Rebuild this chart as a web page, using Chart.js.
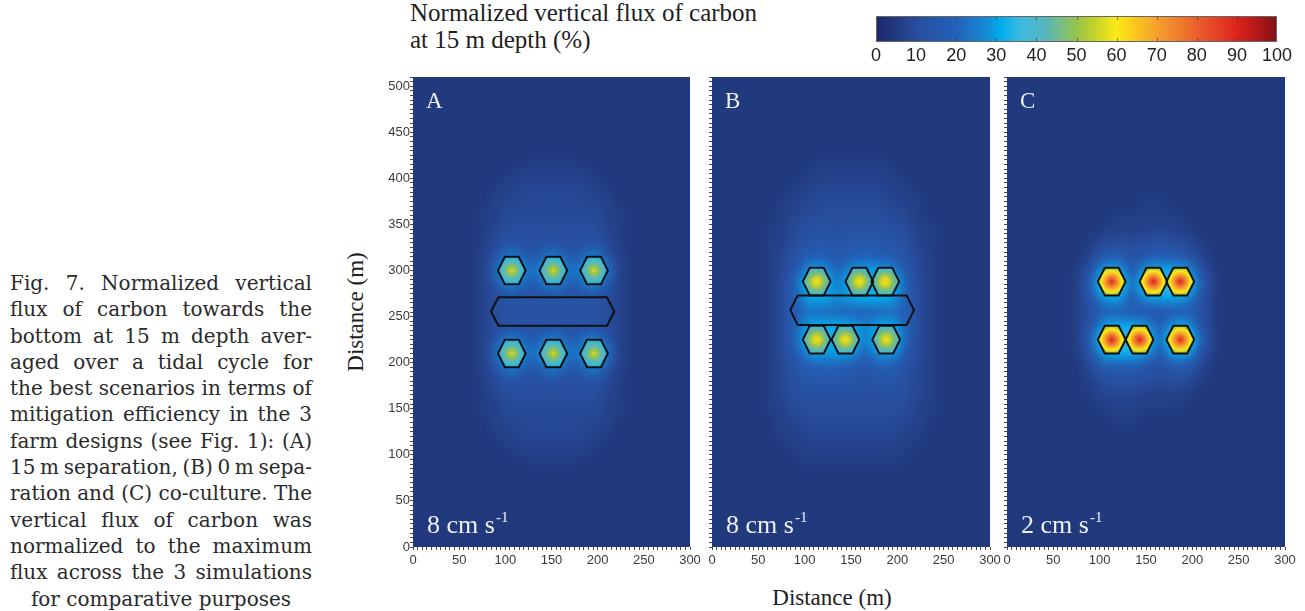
<!DOCTYPE html>
<html>
<head>
<meta charset="utf-8">
<script src="https://cdn.jsdelivr.net/npm/chart.js@4.4.1/dist/chart.umd.min.js"></script>
<style>
  html, body { margin: 0; padding: 0; background: #fff; }
  body { width: 1305px; height: 611px; position: relative; overflow: hidden; }
  canvas { position: absolute; }
  .serif { position: absolute; white-space: nowrap; font-family: "Liberation Serif", "Times New Roman", serif; color: #1e1e1e; }
  #caption { position: absolute; left: 10px; top: 270px; width: 302px; font-family: "DejaVu Serif", serif; font-size: 20px; line-height: 26.3px; color: #2a2a2a; }
  #caption div { white-space: nowrap; }
  #caption .c { text-align: center; }
</style>
</head>
<body>

<div class="serif" style="left:410px; top:-1px; font-size:25px; line-height:27px;">Normalized vertical flux of carbon<br>at 15 m depth (%)</div>

<div id="caption">
  <div class="j"><span>Fig. 7. Normalized vertical</span></div>
  <div class="j"><span>flux of carbon towards the</span></div>
  <div class="j"><span>bottom at 15 m depth aver-</span></div>
  <div class="j"><span>aged over a tidal cycle for</span></div>
  <div class="j"><span>the best scenarios in terms of</span></div>
  <div class="j"><span>mitigation efficiency in the 3</span></div>
  <div class="j"><span>farm designs (see Fig. 1): (A)</span></div>
  <div class="j"><span>15 m separation, (B) 0 m sepa-</span></div>
  <div class="j"><span>ration and (C) co-culture. The</span></div>
  <div class="j"><span>vertical flux of carbon was</span></div>
  <div class="j"><span>normalized to the maximum</span></div>
  <div class="j"><span>flux across the 3 simulations</span></div>
  <div class="c"><span>for comparative purposes</span></div>
</div>

<div class="serif" style="left:732px; top:586px; width:200px; text-align:center; font-size:23px; line-height:23px;">Distance (m)</div>
<div class="serif" style="left:276px; top:299px; width:160px; height:26px; text-align:center; font-size:23px; line-height:26px; transform:rotate(-90deg);">Distance (m)</div>

<canvas id="cbar" width="440" height="60" style="left:860px; top:8px;"></canvas>
<canvas id="panelA" width="325" height="551" style="left:380px; top:60px;"></canvas>
<canvas id="panelB" width="305" height="551" style="left:700px; top:60px;"></canvas>
<canvas id="panelC" width="305" height="551" style="left:995px; top:60px;"></canvas>

<script>
// ---- data (metres / percent) ----
const panelNames = ['A', 'B', 'C'];
const currentSpeed = ['8', '8', '2'];          // cm s-1
const xMax = 300, yMax = 510;

// farm (hexagon) centres
const hexX = [
  [107, 152, 196, 107, 152, 196],
  [113, 159, 187, 113, 144, 188],
  [113, 158, 187, 113, 143, 187]
];
const hexY = [
  [300, 300, 300, 210, 210, 210],
  [288, 288, 288, 225, 225, 225],
  [288, 288, 288, 225, 225, 225]
];
// normalized flux at the farm centre and at its rim (%)
const hexPeak = [
  [56, 56, 56, 56, 56, 56],
  [62, 62, 63, 62, 62, 61],
  [88, 90, 90, 90, 90, 88]
];
const hexRim = [33, 37, 50];
const hexHalo = [29, 31, 32];

// long farm between the two rows (null = none)
const barX = [[84.5, 218], [84.5, 218], null];
const barY = [[240, 271], [241, 273], null];

// flux read on a 15 m grid, rows from y=435 down to y=90, columns x=45..255
const fieldX0 = 45, fieldYTop = 435, fieldStep = 15, bgFlux = 5;

const fluxA = [
  [5,5,5,5,5,5,5,5,5,5,5,5,5,5,5],
  [5,5,5,5,5,5,6,6,6,5,5,5,5,5,5],
  [5,5,5,5,6,7,7,7,7,7,6,5,5,5,5],
  [5,5,5,6,7,8,8,8,8,8,7,6,5,5,5],
  [5,5,5,7,8,8,9,9,9,8,8,7,5,5,5],
  [5,5,6,7,9,9,9,9,9,9,9,7,6,5,5],
  [5,5,6,8,10,10,10,10,10,10,10,8,6,5,5],
  [5,5,6,9,13,11,11,13,11,11,13,9,6,5,5],
  [5,5,7,11,20,15,15,20,15,15,20,11,7,5,5],
  [5,5,7,14,34,22,22,34,22,22,34,14,7,5,5],
  [5,5,7,12,22,17,17,22,17,17,22,12,7,5,5],
  [5,5,7,10,13,12,12,13,12,12,13,10,7,5,5],
  [5,5,7,10,12,12,12,12,12,12,12,10,7,5,5],
  [5,5,7,10,13,12,12,13,12,12,13,10,7,5,5],
  [5,5,7,12,22,17,17,22,17,17,22,12,7,5,5],
  [5,5,7,14,34,22,22,34,22,22,34,14,7,5,5],
  [5,5,7,11,20,15,15,20,15,15,20,11,7,5,5],
  [5,5,6,9,13,11,11,13,11,11,13,9,6,5,5],
  [5,5,6,8,10,10,10,10,10,10,10,8,6,5,5],
  [5,5,6,7,9,9,9,9,9,9,9,7,6,5,5],
  [5,5,5,7,8,8,9,9,9,8,8,7,5,5,5],
  [5,5,5,6,7,8,8,8,8,8,7,6,5,5,5],
  [5,5,5,5,6,7,7,7,7,7,6,5,5,5,5],
  [5,5,5,5,5,5,6,6,6,5,5,5,5,5,5]
];

const fluxB = [
  [5,5,5,5,5,5,5,5,5,5,5,5,5,5,5],
  [5,5,5,5,5,6,6,6,6,6,5,5,5,5,5],
  [5,5,5,5,6,7,7,7,7,7,6,5,5,5,5],
  [5,5,5,6,7,8,8,8,8,8,7,6,5,5,5],
  [5,5,6,7,8,9,9,9,9,9,8,7,6,5,5],
  [5,5,6,8,9,10,10,10,10,10,9,8,6,5,5],
  [5,6,7,9,11,12,11,12,12,12,11,9,7,6,5],
  [5,6,7,10,13,14,13,14,15,14,13,10,7,6,5],
  [5,6,8,12,18,19,15,18,20,19,16,12,8,6,5],
  [5,6,8,15,26,27,20,26,28,27,22,14,8,6,5],
  [5,6,9,18,34,34,24,32,35,35,32,17,9,6,5],
  [5,6,9,19,30,30,27,29,31,31,29,18,9,6,5],
  [5,6,9,18,23,22,21,20,20,21,22,18,9,6,5],
  [5,6,9,19,30,31,31,29,25,29,30,18,9,6,5],
  [5,6,9,18,34,34,34,34,24,34,34,17,9,6,5],
  [5,6,9,16,26,28,28,25,19,26,26,14,9,6,5],
  [5,6,8,13,18,19,19,17,14,18,18,12,8,6,5],
  [5,6,8,11,14,14,14,13,12,13,13,10,8,6,5],
  [5,6,8,10,11,11,11,11,11,11,11,10,8,6,5],
  [5,6,7,9,10,10,10,10,10,10,10,9,7,6,5],
  [5,5,7,8,9,9,9,9,9,9,9,8,7,5,5],
  [5,5,6,7,8,8,8,8,8,8,8,7,6,5,5],
  [5,5,5,6,7,7,7,7,7,7,7,6,5,5,5],
  [5,5,5,5,6,6,6,6,6,6,6,5,5,5,5]
];

const fluxC = [
  [5,5,5,5,5,5,5,5,5,5,5,5,5,5,5],
  [5,5,5,5,5,5,5,5,5,5,5,5,5,5,5],
  [5,5,5,5,5,5,5,5,5,5,5,5,5,5,5],
  [5,5,5,5,5,5,5,5,5,5,5,5,5,5,5],
  [5,5,5,5,5,5,5,6,6,5,5,5,5,5,5],
  [5,5,5,5,5,6,6,6,6,6,5,5,5,5,5],
  [5,5,5,5,6,7,7,7,8,7,6,5,5,5,5],
  [5,5,5,6,9,10,9,10,11,10,9,6,5,5,5],
  [5,5,5,8,16,17,12,16,18,17,13,8,5,5,5],
  [5,5,6,11,29,29,16,27,31,30,25,11,6,5,5],
  [5,5,6,16,40,40,20,38,42,42,36,15,6,5,5],
  [5,5,6,13,28,28,18,26,29,29,25,12,6,5,5],
  [5,5,6,11,19,20,17,16,15,18,18,11,6,5,5],
  [5,5,6,13,28,30,30,26,17,28,28,12,6,5,5],
  [5,5,6,16,40,42,42,36,20,40,40,15,6,5,5],
  [5,5,6,12,29,31,31,25,16,29,27,11,6,5,5],
  [5,5,5,9,16,17,17,14,11,15,14,8,5,5,5],
  [5,5,5,7,10,11,11,10,9,10,9,6,5,5,5],
  [5,5,5,6,8,8,8,7,7,7,6,5,5,5,5],
  [5,5,5,5,6,7,7,6,6,6,5,5,5,5,5],
  [5,5,5,5,5,6,6,5,5,5,5,5,5,5,5],
  [5,5,5,5,5,5,5,5,5,5,5,5,5,5,5],
  [5,5,5,5,5,5,5,5,5,5,5,5,5,5,5],
  [5,5,5,5,5,5,5,5,5,5,5,5,5,5,5]
];
const fluxFields = [fluxA, fluxB, fluxC];

const colorbarTicks = [0, 10, 20, 30, 40, 50, 60, 70, 80, 90, 100];

// ---- colour map ----
const cmapValues = [0, 5, 10, 20, 28, 31, 36, 42, 50, 55, 60, 65, 70, 80, 90, 95, 100];
const cmapColors = [
  [30, 40, 110], [33, 57, 125], [40, 78, 158], [35, 98, 185], [18, 142, 215],
  [0, 172, 236], [60, 186, 224], [85, 181, 190], [150, 196, 78], [202, 212, 40],
  [251, 234, 22], [249, 196, 32], [245, 160, 45], [235, 96, 44], [220, 36, 30],
  [180, 24, 24], [125, 18, 22]
];

const hexHalfW = 15, hexHalfH = 15, barInset = 8;

function colorAt(v) {
  v = Math.max(0, Math.min(100, v));
  for (let i = 1; i < cmapValues.length; i++) {
    if (v <= cmapValues[i]) {
      const t = (v - cmapValues[i - 1]) / (cmapValues[i] - cmapValues[i - 1]);
      const a = cmapColors[i - 1], b = cmapColors[i];
      return [0, 1, 2].map(k => Math.round(a[k] + (b[k] - a[k]) * t));
    }
  }
  return cmapColors[cmapColors.length - 1];
}
const rgb = c => 'rgb(' + c[0] + ',' + c[1] + ',' + c[2] + ')';

function sampleField(rows, vx, vy) {
  const nx = rows[0].length, ny = rows.length;
  let fi = (vx - fieldX0) / fieldStep, fj = (fieldYTop - vy) / fieldStep;
  if (fi < -0.5 || fi > nx - 0.5 || fj < -0.5 || fj > ny - 0.5) return bgFlux;
  fi = Math.max(0, Math.min(nx - 1, fi));
  fj = Math.max(0, Math.min(ny - 1, fj));
  const i0 = Math.min(Math.floor(fi), nx - 2), j0 = Math.min(Math.floor(fj), ny - 2);
  const tx = fi - i0, ty = fj - j0;
  const top = rows[j0][i0] * (1 - tx) + rows[j0][i0 + 1] * tx;
  const bot = rows[j0 + 1][i0] * (1 - tx) + rows[j0 + 1][i0 + 1] * tx;
  return top * (1 - ty) + bot * ty;
}

function fieldPlugin(p) {
  return {
    id: 'field' + p,
    beforeDatasetsDraw(chart) {
      const { ctx, chartArea: a, scales: { x, y } } = chart;
      const w = Math.round(a.right - a.left), h = Math.round(a.bottom - a.top);
      const off = document.createElement('canvas');
      off.width = w; off.height = h;
      const g = off.getContext('2d');
      const img = g.createImageData(w, h);
      const rows = fluxFields[p];
      for (let py = 0; py < h; py++) {
        const vy = y.getValueForPixel(a.top + py + 0.5);
        for (let px = 0; px < w; px++) {
          const vx = x.getValueForPixel(a.left + px + 0.5);
          const c = colorAt(sampleField(rows, vx, vy));
          const k = (py * w + px) * 4;
          img.data[k] = c[0]; img.data[k + 1] = c[1]; img.data[k + 2] = c[2]; img.data[k + 3] = 255;
        }
      }
      g.putImageData(img, 0, 0);
      ctx.save();
      ctx.fillStyle = rgb(colorAt(bgFlux));
      ctx.fillRect(a.left, a.top, w, h);
      ctx.beginPath(); ctx.rect(a.left, a.top, w, h); ctx.clip();
      ctx.filter = 'blur(3px)';
      ctx.drawImage(off, a.left, a.top);
      ctx.restore();
    },
    afterDatasetsDraw(chart) {
      const { ctx, chartArea: a, scales: { x, y } } = chart;
      const P = (vx, vy) => [x.getPixelForValue(vx), y.getPixelForValue(vy)];
      function hexPath(cx, cy) {
        const pts = [P(cx - hexHalfW, cy), P(cx - hexHalfW / 2, cy + hexHalfH), P(cx + hexHalfW / 2, cy + hexHalfH),
                     P(cx + hexHalfW, cy), P(cx + hexHalfW / 2, cy - hexHalfH), P(cx - hexHalfW / 2, cy - hexHalfH)];
        ctx.beginPath();
        pts.forEach((q, i) => i ? ctx.lineTo(q[0], q[1]) : ctx.moveTo(q[0], q[1]));
        ctx.closePath();
      }
      ctx.save();
      ctx.beginPath(); ctx.rect(a.left, a.top, a.right - a.left, a.bottom - a.top); ctx.clip();
      // glow
      const halo = rgb(colorAt(hexHalo[p]));
      hexX[p].forEach((cx, i) => {
        hexPath(cx, hexY[p][i]);
        ctx.shadowColor = halo; ctx.shadowBlur = 14;
        ctx.fillStyle = halo; ctx.fill();
      });
      ctx.shadowBlur = 0; ctx.shadowColor = 'transparent';
      // farm fill
      hexX[p].forEach((cx, i) => {
        const cy = hexY[p][i];
        const c = P(cx, cy);
        const r = x.getPixelForValue(cx + hexHalfW) - c[0];
        const grad = ctx.createRadialGradient(c[0], c[1], 0, c[0], c[1], r);
        for (let s = 0; s <= 4; s++) {
          const t = s / 4;
          grad.addColorStop(t, rgb(colorAt(hexPeak[p][i] + (hexRim[p] - hexPeak[p][i]) * t)));
        }
        hexPath(cx, cy);
        ctx.fillStyle = grad; ctx.fill();
      });
      // outlines
      ctx.strokeStyle = '#101010'; ctx.lineWidth = 2; ctx.lineJoin = 'round';
      hexX[p].forEach((cx, i) => { hexPath(cx, hexY[p][i]); ctx.stroke(); });
      if (barX[p]) {
        const [x0, x1] = barX[p], [y0, y1] = barY[p], ym = (y0 + y1) / 2;
        const pts = [P(x0, ym), P(x0 + barInset, y1), P(x1 - barInset, y1), P(x1, ym), P(x1 - barInset, y0), P(x0 + barInset, y0)];
        ctx.beginPath();
        pts.forEach((q, i) => i ? ctx.lineTo(q[0], q[1]) : ctx.moveTo(q[0], q[1]));
        ctx.closePath(); ctx.stroke();
      }
      // panel texts
      ctx.fillStyle = '#eef1f7';
      ctx.textBaseline = 'alphabetic';
      ctx.font = '23px "Liberation Serif"';
      ctx.fillText(panelNames[p], a.left + 13, a.top + 31);
      ctx.font = '26px "Liberation Serif"';
      const txt = currentSpeed[p] + ' cm s';
      ctx.fillText(txt, a.left + 14, a.bottom - 14);
      const tw = ctx.measureText(txt).width;
      ctx.font = '15px "Liberation Serif"';
      ctx.fillText('-1', a.left + 14 + tw + 1, a.bottom - 25);
      ctx.restore();
    }
  };
}

Chart.defaults.font.family = 'Liberation Sans';

function makePanel(canvasId, p, yLabels, rightPad) {
  const pts = hexX[p].map((vx, i) => ({ x: vx, y: hexY[p][i] }));
  return new Chart(document.getElementById(canvasId), {
    type: 'scatter',
    data: { datasets: [{ data: pts, pointRadius: 0 }] },
    options: {
      responsive: false, animation: false, devicePixelRatio: 1,
      layout: { padding: { left: 0, right: rightPad, top: 17, bottom: 0 } },
      plugins: { legend: { display: false }, tooltip: { enabled: false } },
      scales: {
        x: {
          type: 'linear', min: 0, max: xMax,
          ticks: { stepSize: 5, maxTicksLimit: 500, autoSkip: false, maxRotation: 0, padding: 3, color: '#3a3a3a',
                   font: { size: 13 }, callback: v => (v % 50 === 0 ? v : '') },
          grid: { drawOnChartArea: false, tickLength: 3, color: '#4a4a4a' },
          border: { display: false },
          afterFit: s => { s.height = 64; s.paddingLeft = 0; s.paddingRight = 0; }
        },
        y: {
          type: 'linear', min: 0, max: yMax,
          ticks: { stepSize: 5, maxTicksLimit: 500, autoSkip: false, padding: 0, color: '#3a3a3a',
                   font: { size: 13 }, callback: v => (yLabels && v % 50 === 0 ? v : '') },
          grid: { drawOnChartArea: false, tickLength: 3, color: '#4a4a4a' },
          border: { display: false },
          afterFit: s => { s.width = yLabels ? 33 : 12; s.paddingTop = 0; s.paddingBottom = 0; }
        }
      }
    },
    plugins: [fieldPlugin(p)]
  });
}

makePanel('panelA', 0, true, 15);
makePanel('panelB', 1, false, 15);
makePanel('panelC', 2, false, 15);

// colour bar
new Chart(document.getElementById('cbar'), {
  type: 'scatter',
  data: { datasets: [{ data: [] }] },
  options: {
    responsive: false, animation: false, devicePixelRatio: 1,
    layout: { padding: { left: 16, right: 23, top: 8, bottom: 0 } },
    plugins: { legend: { display: false }, tooltip: { enabled: false } },
    scales: {
      x: {
        type: 'linear', min: 0, max: 100,
        afterBuildTicks: s => { s.ticks = colorbarTicks.map(v => ({ value: v })); },
        ticks: { padding: 3, color: '#222', font: { size: 18 }, maxRotation: 0, autoSkip: false },
        grid: { display: false, drawTicks: false },
        border: { display: false },
        afterFit: s => { s.height = 26; s.paddingLeft = 0; s.paddingRight = 0; }
      },
      y: { display: false, min: 0, max: 1 }
    }
  },
  plugins: [{
    id: 'cbarFill',
    beforeDatasetsDraw(chart) {
      const { ctx, chartArea: a, scales: { x } } = chart;
      const x0 = x.getPixelForValue(0), x1 = x.getPixelForValue(100);
      const grad = ctx.createLinearGradient(x0, 0, x1, 0);
      cmapValues.forEach((v, i) => grad.addColorStop(v / 100, rgb(cmapColors[i])));
      ctx.save();
      ctx.fillStyle = grad;
      ctx.fillRect(a.left, a.top, a.right - a.left, a.bottom - a.top);
      ctx.strokeStyle = 'rgba(40,40,40,0.55)'; ctx.lineWidth = 1;
      colorbarTicks.slice(1, -1).forEach(v => {
        const px = Math.round(x.getPixelForValue(v)) + 0.5;
        ctx.beginPath();
        ctx.moveTo(px, a.top); ctx.lineTo(px, a.top + 4);
        ctx.moveTo(px, a.bottom); ctx.lineTo(px, a.bottom - 4);
        ctx.stroke();
      });
      ctx.strokeStyle = '#666';
      ctx.strokeRect(a.left + 0.5, a.top + 0.5, a.right - a.left - 1, a.bottom - a.top - 1);
      ctx.restore();
    }
  }]
});

// justify caption lines to the column width
const captionWidth = 302;
document.querySelectorAll('#caption .j').forEach(d => {
  const span = d.firstElementChild;
  const w = span.getBoundingClientRect().width;
  const gaps = (span.textContent.match(/ /g) || []).length;
  if (gaps) d.style.wordSpacing = ((captionWidth - w) / gaps) + 'px';
});
</script>
</body>
</html>
